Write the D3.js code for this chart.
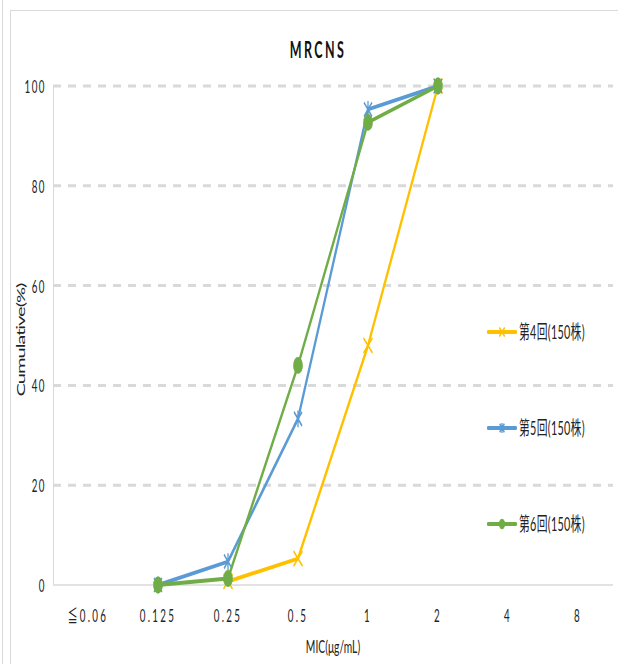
<!DOCTYPE html>
<html>
<head>
<meta charset="utf-8">
<script src="https://cdn.jsdelivr.net/npm/d3@7"></script>
<style>
  html, body { margin: 0; padding: 0; background: #fff; }
  svg { display: block; }
  text { font-family: Lato, "Noto Sans CJK SC", "DejaVu Sans", sans-serif; }
</style>
</head>
<body>
<script>
// ---- data ----
const categories = ["≦0.06", "0.125", "0.25", "0.5", "1", "2", "4", "8"];
const round4 = [null, null, 0.7, 5.3, 48.0, 100, null, null];
const round5 = [null, 0, 4.7, 33.3, 95.3, 100, null, null];
const round6 = [null, 0, 1.3, 44.0, 92.7, 100, null, null];
const yTicks = [0, 20, 40, 60, 80, 100];
const seriesNames = ["第4回(150株)", "第5回(150株)", "第6回(150株)"];
const chartTitle = "MRCNS";
const xTitle = "MIC(μg/mL)";
const yTitle = "Cumulative(%)";

const series = [
  { name: seriesNames[0], values: round4, color: "#FFC000", marker: "x" },
  { name: seriesNames[1], values: round5, color: "#5B9BD5", marker: "star" },
  { name: seriesNames[2], values: round6, color: "#70AD47", marker: "circle" }
];

// ---- layout ----
const W = 618, H = 664;
const SY = 1.75;              // vertical stretch of the original picture
const sy = v => v / SY;       // screen y -> internal y

const svg = d3.select("body").append("svg").attr("width", W).attr("height", H);

// outer frame (unstretched)
svg.append("line").attr("x1", 2.5).attr("x2", 2.5).attr("y1", 0).attr("y2", H)
  .attr("stroke", "#d9d9d9").attr("stroke-width", 1);
svg.append("line").attr("x1", 10.5).attr("x2", 10.5).attr("y1", 10).attr("y2", H)
  .attr("stroke", "#d9d9d9").attr("stroke-width", 1);
svg.append("line").attr("x1", 10).attr("x2", W).attr("y1", 10.5).attr("y2", 10.5)
  .attr("stroke", "#d9d9d9").attr("stroke-width", 1);

const g = svg.append("g").attr("transform", `scale(1,${SY})`);

const x = d3.scaleBand().domain(categories).range([53, 613]).padding(0);
const y = d3.scaleLinear().domain([0, 100]).range([sy(585), sy(86)]);
const cx = c => x(c) + x.bandwidth() / 2;

// gridlines
g.append("g").selectAll("line").data(yTicks.filter(t => t > 0)).join("line")
  .attr("x1", 53).attr("x2", 613)
  .attr("y1", d => y(d)).attr("y2", d => y(d))
  .attr("stroke", "#d9d9d9").attr("stroke-width", 3 / SY)
  .attr("stroke-dasharray", "8,7");

// axis lines
g.append("line").attr("x1", 53).attr("x2", 613).attr("y1", y(0)).attr("y2", y(0))
  .attr("stroke", "#d9d9d9").attr("stroke-width", 1.4 / SY);
g.append("line").attr("x1", 53.5).attr("x2", 53.5).attr("y1", y(0)).attr("y2", y(100))
  .attr("stroke", "#d9d9d9").attr("stroke-width", 1);

// y tick labels via axis
const yAxis = g.append("g").attr("transform", "translate(46,0)")
  .call(d3.axisLeft(y).tickValues(yTicks).tickSize(0).tickPadding(0));
yAxis.select(".domain").remove();
yAxis.selectAll("text")
  .attr("font-size", 9.8).attr("fill", "#222").attr("letter-spacing", 1.5)
  .attr("font-family", "Lato, sans-serif").attr("dy", "0.36em");

// x tick labels via axis
const xAxis = g.append("g").attr("transform", `translate(0,${sy(585)})`)
  .call(d3.axisBottom(x).tickSize(0).tickPadding(0));
xAxis.select(".domain").remove();
xAxis.selectAll("text")
  .attr("y", sy(622) - sy(585)).attr("dy", 0)
  .attr("font-size", 9.8).attr("fill", "#222").attr("letter-spacing", 2.3)
  .attr("font-family", "Lato, \"DejaVu Sans\", sans-serif");

// titles
g.append("text").attr("x", 318).attr("y", sy(58)).attr("text-anchor", "middle")
  .attr("font-size", 12.5).attr("font-weight", "bold").attr("letter-spacing", 2.4)
  .attr("fill", "#111").text(chartTitle);
g.append("text").attr("x", 333).attr("y", sy(653)).attr("text-anchor", "middle")
  .attr("font-size", 10.3).attr("fill", "#222").text(xTitle);
g.append("text").attr("transform", `translate(25,${sy(340)}) rotate(-90)`)
  .attr("text-anchor", "middle").attr("font-size", 11.5).attr("letter-spacing", -0.6)
  .attr("fill", "#222").text(yTitle);

// markers
function drawMarker(sel, type, color, s) {
  if (type === "circle") {
    sel.append("circle").attr("r", 4.5 * s).attr("fill", color).attr("stroke", color).attr("stroke-width", 0.6);
  } else if (type === "x") {
    sel.append("path").attr("d", `M${-4.5*s},${-4.3*s}L${4.5*s},${4.3*s}M${-4.5*s},${4.3*s}L${4.5*s},${-4.3*s}`)
      .attr("stroke", color).attr("stroke-width", 1.3).attr("fill", "none");
  } else {
    sel.append("path").attr("d", `M${-4*s},${-4*s}L${4*s},${4*s}M${-4*s},${4*s}L${4*s},${-4*s}M0,${-4.8*s}L0,${4.8*s}`)
      .attr("stroke", color).attr("stroke-width", 1.3).attr("fill", "none");
  }
}

const line = d3.line()
  .defined(d => d.v !== null)
  .x(d => cx(d.c)).y(d => y(d.v));

series.forEach(s => {
  const pts = categories.map((c, i) => ({ c, v: s.values[i] }));
  g.append("path").datum(pts).attr("d", line)
    .attr("fill", "none").attr("stroke", s.color).attr("stroke-width", 2.2)
    .attr("stroke-linejoin", "round").attr("stroke-linecap", "round");
  pts.filter(d => d.v !== null).forEach(d => {
    const m = g.append("g").attr("transform", `translate(${cx(d.c)},${y(d.v)})`);
    drawMarker(m, s.marker, s.color, 1);
  });
});

// legend
const legendY = [332, 428, 524];
series.forEach((s, i) => {
  const ly = sy(legendY[i]);
  g.append("line").attr("x1", 488).attr("x2", 516).attr("y1", ly).attr("y2", ly)
    .attr("stroke", s.color).attr("stroke-width", 2.2).attr("stroke-linecap", "round");
  const m = g.append("g").attr("transform", `translate(502,${ly})`);
  drawMarker(m, s.marker, s.color, 0.6);
  g.append("text").attr("x", 519).attr("y", ly).attr("dy", "0.36em")
    .attr("font-size", 10.8).attr("fill", "#222").attr("letter-spacing", 0.3)
    .text(s.name);
});
</script>
</body>
</html>
